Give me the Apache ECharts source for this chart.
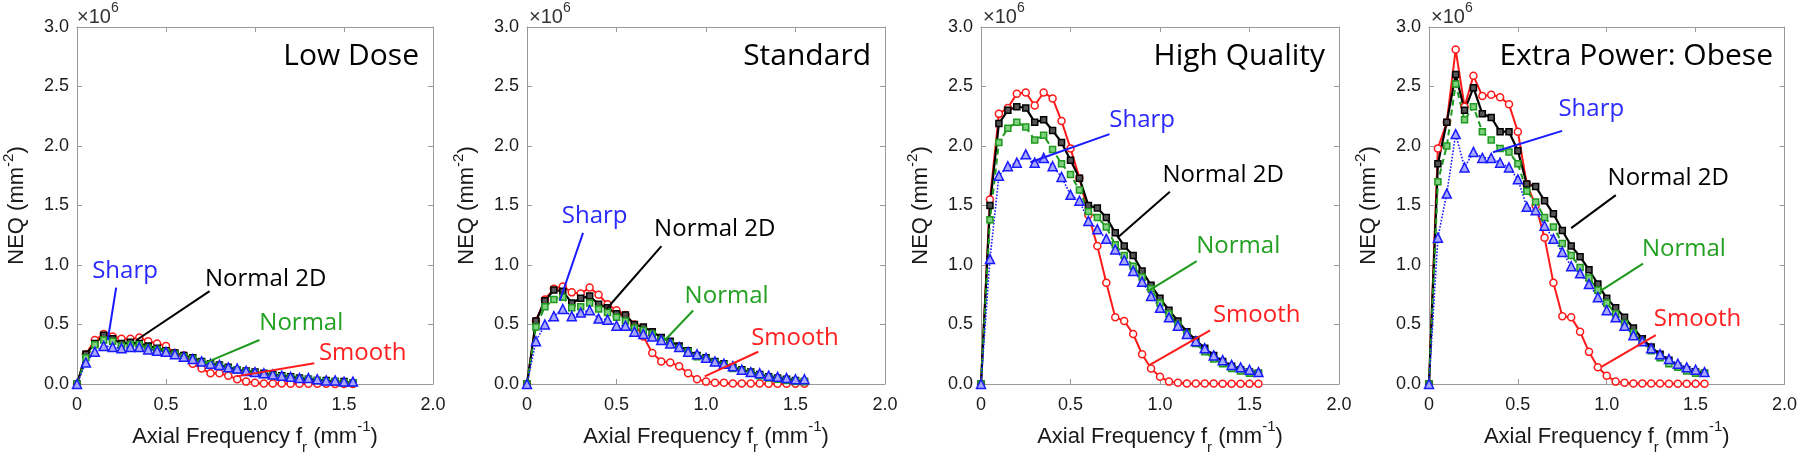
<!DOCTYPE html>
<html>
<head>
<meta charset="utf-8">
<script src="https://cdn.jsdelivr.net/npm/echarts@6/dist/echarts.min.js"></script>
<style>
    html, body { margin: 0; background: #fff; }
    #chart { width: 1800px; height: 460px; }
</style>
</head>
<body>
<div id="chart"></div>
<script>
    // axial frequency (mm^-1)
    var freq = [0, 0.05, 0.1, 0.15, 0.2, 0.25, 0.3, 0.35, 0.4, 0.45, 0.5, 0.55, 0.6, 0.65, 0.7, 0.75,
        0.8, 0.85, 0.9, 0.95, 1.0, 1.05, 1.1, 1.15, 1.2, 1.25, 1.3, 1.35, 1.4, 1.45, 1.5, 1.55];
    var xTicks = [0, 0.5, 1.0, 1.5, 2.0];
    var yTicks = [0, 0.5, 1.0, 1.5, 2.0, 2.5, 3.0];
    var titles = ['Low Dose', 'Standard', 'High Quality', 'Extra Power: Obese'];

    // NEQ in units of 1e6 mm^-2
    var lowSmooth = [0, 0.25, 0.37, 0.42, 0.40, 0.38, 0.38, 0.39, 0.36, 0.34, 0.32, 0.26, 0.24, 0.17, 0.13, 0.09,
        0.09, 0.07, 0.04, 0.02, 0.01, 0.005, 0.005, 0.004, 0.003, 0.003, 0.002, 0.002, 0.002, 0.001, 0.001, 0.001];
    var low2D = [0, 0.25, 0.34, 0.41, 0.38, 0.34, 0.35, 0.34, 0.32, 0.30, 0.28, 0.26, 0.24, 0.22, 0.19, 0.17,
        0.16, 0.14, 0.12, 0.11, 0.10, 0.09, 0.08, 0.07, 0.06, 0.05, 0.04, 0.03, 0.03, 0.02, 0.02, 0.01];
    var lowNormal = [0, 0.22, 0.33, 0.37, 0.36, 0.32, 0.33, 0.33, 0.30, 0.29, 0.27, 0.25, 0.23, 0.21, 0.18, 0.16,
        0.15, 0.13, 0.12, 0.10, 0.09, 0.08, 0.07, 0.06, 0.05, 0.04, 0.04, 0.03, 0.02, 0.02, 0.01, 0.01];
    var lowSharp = [0, 0.18, 0.27, 0.32, 0.31, 0.30, 0.31, 0.31, 0.29, 0.28, 0.27, 0.25, 0.23, 0.21, 0.19, 0.17,
        0.16, 0.14, 0.13, 0.11, 0.10, 0.09, 0.08, 0.07, 0.06, 0.05, 0.05, 0.04, 0.03, 0.03, 0.02, 0.02];

    var stdSmooth = [0, 0.53, 0.71, 0.80, 0.82, 0.77, 0.76, 0.81, 0.75, 0.67, 0.62, 0.58, 0.50, 0.40, 0.26, 0.19,
        0.18, 0.15, 0.09, 0.04, 0.02, 0.01, 0.01, 0.005, 0.005, 0.004, 0.004, 0.003, 0.003, 0.002, 0.002, 0.002];
    var std2D = [0, 0.53, 0.70, 0.79, 0.78, 0.68, 0.72, 0.74, 0.67, 0.64, 0.59, 0.58, 0.50, 0.48, 0.44, 0.39,
        0.36, 0.32, 0.28, 0.24, 0.22, 0.19, 0.17, 0.14, 0.12, 0.10, 0.08, 0.06, 0.05, 0.04, 0.03, 0.02];
    var stdNormal = [0, 0.48, 0.65, 0.71, 0.73, 0.64, 0.65, 0.68, 0.63, 0.60, 0.56, 0.53, 0.47, 0.45, 0.42, 0.37,
        0.34, 0.30, 0.27, 0.23, 0.21, 0.18, 0.16, 0.13, 0.11, 0.09, 0.07, 0.05, 0.04, 0.03, 0.02, 0.02];
    var stdSharp = [0, 0.36, 0.50, 0.57, 0.63, 0.57, 0.60, 0.62, 0.55, 0.54, 0.49, 0.49, 0.44, 0.42, 0.40, 0.37,
        0.34, 0.31, 0.27, 0.25, 0.22, 0.19, 0.17, 0.15, 0.12, 0.10, 0.09, 0.07, 0.06, 0.05, 0.04, 0.04];

    var hqSmooth = [0, 1.55, 2.27, 2.32, 2.44, 2.45, 2.34, 2.45, 2.40, 2.21, 1.98, 1.73, 1.42, 1.16, 0.85, 0.56,
        0.53, 0.42, 0.25, 0.13, 0.06, 0.02, 0.01, 0.005, 0.005, 0.004, 0.004, 0.003, 0.003, 0.003, 0.002, 0.002];
    var hq2D = [0, 1.50, 2.19, 2.30, 2.33, 2.32, 2.20, 2.22, 2.13, 2.03, 1.88, 1.73, 1.50, 1.48, 1.40, 1.27,
        1.16, 1.08, 0.95, 0.83, 0.72, 0.62, 0.53, 0.44, 0.37, 0.30, 0.24, 0.19, 0.15, 0.12, 0.10, 0.09];
    var hqNormal = [0, 1.38, 2.03, 2.15, 2.20, 2.16, 2.05, 2.09, 1.97, 1.85, 1.76, 1.63, 1.45, 1.40, 1.32, 1.17,
        1.08, 0.99, 0.90, 0.80, 0.68, 0.59, 0.50, 0.42, 0.34, 0.27, 0.21, 0.17, 0.13, 0.11, 0.09, 0.09];
    var hqSharp = [0, 1.05, 1.75, 1.83, 1.86, 1.93, 1.86, 1.90, 1.83, 1.74, 1.59, 1.54, 1.37, 1.30, 1.22, 1.13,
        1.04, 0.95, 0.86, 0.74, 0.64, 0.56, 0.49, 0.42, 0.36, 0.30, 0.24, 0.20, 0.16, 0.14, 0.12, 0.10];

    var obSmooth = [0, 1.98, 2.20, 2.81, 2.33, 2.59, 2.42, 2.43, 2.41, 2.35, 2.12, 1.68, 1.50, 1.23, 0.85, 0.57,
        0.56, 0.44, 0.27, 0.14, 0.07, 0.02, 0.01, 0.005, 0.005, 0.004, 0.004, 0.003, 0.003, 0.003, 0.002, 0.002];
    var ob2D = [0, 1.85, 2.20, 2.60, 2.30, 2.49, 2.27, 2.24, 2.12, 2.12, 1.96, 1.68, 1.66, 1.54, 1.43, 1.29,
        1.16, 1.07, 0.96, 0.84, 0.72, 0.64, 0.56, 0.47, 0.38, 0.31, 0.25, 0.20, 0.15, 0.12, 0.10, 0.09];
    var obNormal = [0, 1.70, 2.00, 2.52, 2.22, 2.33, 2.12, 2.05, 1.98, 1.95, 1.85, 1.62, 1.53, 1.40, 1.32, 1.18,
        1.08, 0.98, 0.89, 0.79, 0.68, 0.59, 0.51, 0.43, 0.35, 0.28, 0.22, 0.17, 0.14, 0.11, 0.09, 0.09];
    var obSharp = [0, 1.23, 1.60, 2.10, 1.82, 1.95, 1.90, 1.90, 1.86, 1.82, 1.72, 1.49, 1.46, 1.33, 1.22, 1.11,
        0.99, 0.93, 0.84, 0.73, 0.62, 0.56, 0.49, 0.41, 0.36, 0.30, 0.25, 0.21, 0.17, 0.14, 0.12, 0.10];

    // annotation: [text x, text y, line x1, y1, x2, y2] in data units
    var lowNotes = {sharp: [0.27, 0.945, 0.22, 0.81, 0.173, 0.37], nor2d: [1.06, 0.88, 0.745, 0.78, 0.335, 0.37],
        normal: [1.26, 0.515, 1.025, 0.37, 0.717, 0.175], smooth: [1.605, 0.258, 1.333, 0.175, 0.895, 0.064]};
    var stdNotes = {sharp: [0.378, 1.41, 0.313, 1.27, 0.183, 0.70], nor2d: [1.049, 1.30, 0.751, 1.158, 0.444, 0.63],
        normal: [1.115, 0.742, 0.928, 0.618, 0.77, 0.368], smooth: [1.497, 0.382, 1.292, 0.271, 0.993, 0.064]};
    var hqNotes = {sharp: [0.90, 2.22, 0.718, 2.10, 0.276, 1.864], nor2d: [1.353, 1.753, 1.055, 1.615, 0.77, 1.24],
        normal: [1.437, 1.158, 1.205, 1.033, 0.9375, 0.784], smooth: [1.54, 0.576, 1.28, 0.45, 0.943, 0.16]};
    var obNotes = {sharp: [0.913, 2.31, 0.749, 2.127, 0.36, 1.947], nor2d: [1.346, 1.726, 1.051, 1.587, 0.80, 1.31],
        normal: [1.434, 1.13, 1.204, 1.011, 0.967, 0.784], smooth: [1.511, 0.548, 1.276, 0.41, 0.967, 0.141]};

    var panels = [
        {smooth: lowSmooth, nor2d: low2D, normal: lowNormal, sharp: lowSharp, notes: lowNotes},
        {smooth: stdSmooth, nor2d: std2D, normal: stdNormal, sharp: stdSharp, notes: stdNotes},
        {smooth: hqSmooth, nor2d: hq2D, normal: hqNormal, sharp: hqSharp, notes: hqNotes},
        {smooth: obSmooth, nor2d: ob2D, normal: obNormal, sharp: obSharp, notes: obNotes}
    ];

    var lefts = [75, 527, 981, 1429];
    var plotW = 358, plotTop = 27, plotH = 361;
    var boxColor = '#9a9a9a';
    var tickFont = '"Liberation Sans", Arial, sans-serif';
    var noteFont = '"Open Sans", "Noto Sans", sans-serif';

    var styles = {
        smooth: {name: 'Smooth', color: '#ff1a1a', text: '#ff2020', symbol: 'circle', size: 7, fill: '#fff',
            line: {width: 2, type: 'solid'}},
        nor2d: {name: 'Normal 2D', color: '#000', text: '#000', symbol: 'rect', size: 6, fill: '#555',
            line: {width: 2.2, type: 'solid'}},
        normal: {name: 'Normal', color: '#1f9a1f', text: '#22a022', symbol: 'rect', size: 6, fill: '#7fd07f',
            line: {width: 2, type: [6, 4]}},
        sharp: {name: 'Sharp', color: '#1a1aff', text: '#2a2aff', symbol: 'triangle', size: 9, fill: '#a8a8ff',
            line: {width: 1.6, type: 'dotted'}}
    };
    var order = ['smooth', 'nor2d', 'normal', 'sharp'];

    function pairs(arr) {
        return freq.map(function (f, k) { return [f, arr[k]]; });
    }

    var option = {
        animation: false,
        backgroundColor: '#fff',
        grid: [], xAxis: [], yAxis: [], series: [], graphic: []
    };

    panels.forEach(function (p, i) {
        option.grid.push({left: lefts[i], top: plotTop, width: plotW, height: plotH, show: false});

        var baseLine = {show: true, onZero: false, lineStyle: {color: boxColor, width: 1}};
        var baseTick = {show: true, inside: true, length: 5, lineStyle: {color: boxColor}};

        option.xAxis.push({
            type: 'value', gridIndex: i, min: xTicks[0], max: xTicks[xTicks.length - 1], interval: 0.5,
            position: 'bottom', axisLine: baseLine, axisTick: baseTick, splitLine: {show: false},
            axisLabel: {color: '#1a1a1a', fontSize: 18, fontFamily: tickFont, margin: 12,
                formatter: function (v) { return v === 0 ? '0' : v.toFixed(1); }},
            name: '{a|Axial Frequency f}{sub|r}{a| (mm}{sup|-1}{a|)}',
            nameLocation: 'middle', nameGap: 35,
            nameTextStyle: {rich: {
                a: {fontSize: 22, fontFamily: tickFont, color: '#1a1a1a', lineHeight: 36},
                sub: {fontSize: 15, fontFamily: tickFont, color: '#1a1a1a', verticalAlign: 'bottom', lineHeight: 36},
                sup: {fontSize: 15, fontFamily: tickFont, color: '#1a1a1a', verticalAlign: 'top', lineHeight: 36}
            }}
        });
        option.xAxis.push({
            type: 'value', gridIndex: i, min: 0, max: 2, interval: 0.5, position: 'top',
            axisLine: baseLine, axisTick: baseTick, axisLabel: {show: false}, splitLine: {show: false}
        });
        option.yAxis.push({
            type: 'value', gridIndex: i, min: yTicks[0], max: yTicks[yTicks.length - 1], interval: 0.5,
            position: 'left', axisLine: baseLine, axisTick: baseTick, splitLine: {show: false},
            axisLabel: {color: '#1a1a1a', fontSize: 18, fontFamily: tickFont, margin: 8,
                formatter: function (v) { return v.toFixed(1); }},
            name: '{a|NEQ (mm}{sup|-2}{a|)}', nameLocation: 'middle', nameRotate: 90, nameGap: 44,
            nameTextStyle: {rich: {
                a: {fontSize: 22, fontFamily: tickFont, color: '#1a1a1a', lineHeight: 32},
                sup: {fontSize: 15, fontFamily: tickFont, color: '#1a1a1a', verticalAlign: 'top', lineHeight: 32}
            }}
        });
        option.yAxis.push({
            type: 'value', gridIndex: i, min: 0, max: 3, interval: 0.5, position: 'right',
            axisLine: baseLine, axisTick: baseTick, axisLabel: {show: false}, splitLine: {show: false}
        });

        order.forEach(function (key) {
            var st = styles[key];
            var n = p.notes[key];
            option.series.push({
                type: 'line', name: st.name, xAxisIndex: 2 * i, yAxisIndex: 2 * i,
                data: pairs(p[key]),
                symbol: st.symbol, symbolSize: st.size, showAllSymbol: true,
                lineStyle: {color: st.color, width: st.line.width, type: st.line.type},
                itemStyle: {color: st.fill, borderColor: st.color, borderWidth: 1.5},
                markLine: {
                    silent: true, symbol: ['none', 'none'], animation: false,
                    label: {show: false},
                    lineStyle: {color: st.color, width: 2, type: 'solid'},
                    data: [[{coord: [n[2], n[3]]}, {coord: [n[4], n[5]]}]]
                },
                markPoint: {
                    silent: true, symbol: 'circle', symbolSize: 0, animation: false,
                    data: [{coord: [n[0], n[1]]}],
                    label: {show: true, position: 'inside', formatter: st.name, color: st.text,
                        fontSize: 24, fontFamily: noteFont}
                }
            });
        });

        option.graphic.push({
            type: 'text', left: lefts[i] + 2, top: 1, silent: true,
            style: {
                text: '{a|\u00d710}{s|6}',
                rich: {
                    a: {fontSize: 20, fontFamily: tickFont, fill: '#333', lineHeight: 26, verticalAlign: 'bottom'},
                    s: {fontSize: 14, fontFamily: tickFont, fill: '#333', lineHeight: 26, verticalAlign: 'top'}
                }
            }
        });
        option.graphic.push({
            type: 'text', x: lefts[i] + plotW - 14, y: 56, silent: true,
            style: {text: titles[i], fill: '#000', font: '30px "Open Sans", "Noto Sans", sans-serif',
                align: 'right', verticalAlign: 'middle'}
        });
    });

    var chart = echarts.init(document.getElementById('chart'));
    chart.setOption(option);
</script>
</body>
</html>
